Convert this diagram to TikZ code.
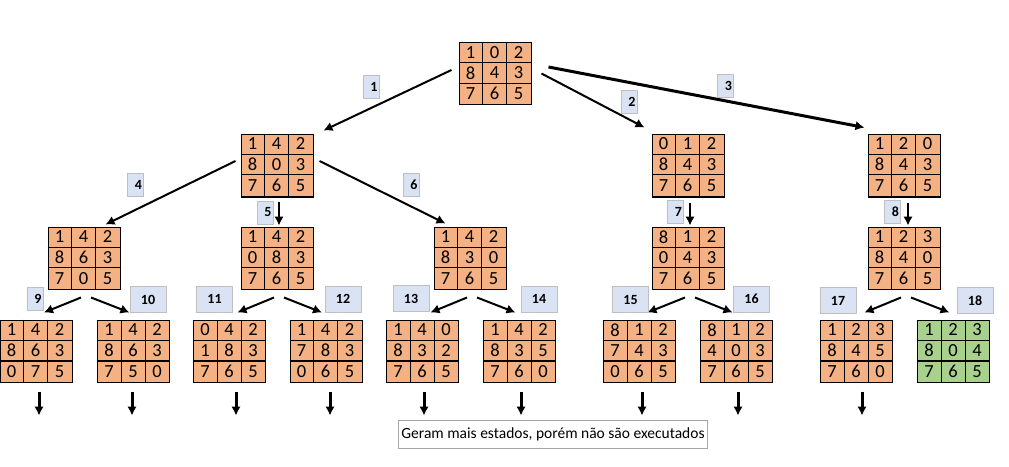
\documentclass[tikz,border=0pt]{standalone}
\usepackage{fontspec}
\setmainfont{Carlito}
\usetikzlibrary{arrows.meta,positioning,calc}
\definecolor{tile}{HTML}{F4B183}
\definecolor{goal}{HTML}{A9D18E}
\definecolor{tagfill}{HTML}{DAE3F3}
\definecolor{tagline}{HTML}{BFBFBF}
\tikzset{
	board/.style={
		rectangle,
		draw=black,
		line width=1pt,
		minimum width=72pt,
		minimum height=62pt,
		inner sep=0pt,
	},
	digit/.style={
		inner sep=0pt,
		font=\fontsize{18.5}{21}\selectfont,
	},
	tag/.style={
		rectangle,
		draw=tagline,
		fill=tagfill,
		line width=1pt,
		font=\bfseries\fontsize{14}{16}\selectfont,
	},
	onetag/.style={
		tag,
		text width=13pt,
		align=right,
		inner xsep=1.5pt,
		minimum height=23pt,
	},
	twotag/.style={
		tag,
		minimum width=36pt,
		minimum height=26pt,
	},
	move/.style={
		-{Latex[length=9pt,width=9.5pt]},
		line width=2pt,
	},
}

% board: fill, name, placement, the nine tiles
\newcommand{\puzzle}[4][tile]{%
	\node [board, fill=#1, #3] (#2) {};
	\foreach \d [count=\i from 0] in {#4} {
		\pgfmathtruncatemacro{\prow}{\i/3}
		\pgfmathtruncatemacro{\pcol}{mod(\i,3)}
		\node [digit] at ($(#2.north west)+(\pcol*24+12,\prow*20.667+10.333)$) {\d};
	}
	\draw [line width=1pt] ($(#2.north west)+(24,0)$) -- ++(0,62)
		($(#2.north west)+(48,0)$) -- ++(0,62)
		($(#2.north west)+(0,20.667)$) -- ++(72,0)
		($(#2.north west)+(0,41.333)$) -- ++(72,0);
}

\begin{document}
\begin{tikzpicture}[x=1pt, y=-1pt]
	\useasboundingbox (0,0) rectangle (1009,466);

	% start state
	\puzzle{root}{at={(495,73.5)}}{1,0,2,8,4,3,7,6,5}

	% first level
	\puzzle{s1}{at={(277,165)}}{1,4,2,8,0,3,7,6,5}
	\puzzle{s2}{at={(688,165)}}{0,1,2,8,4,3,7,6,5}
	\puzzle{s3}{at={(904,165)}}{1,2,0,8,4,3,7,6,5}

	% second level
	\puzzle{s4}{below=30pt of s1, xshift=-193pt}{1,4,2,8,6,3,7,0,5}
	\puzzle{s5}{below=30pt of s1}{1,4,2,0,8,3,7,6,5}
	\puzzle{s6}{below=30pt of s1, xshift=193pt}{1,4,2,8,3,0,7,6,5}
	\puzzle{s7}{below=30pt of s2}{8,1,2,0,4,3,7,6,5}
	\puzzle{s8}{below=30pt of s3}{1,2,3,8,4,0,7,6,5}

	% third level
	\puzzle{s9}{below=30pt of s4, xshift=-48pt}{1,4,2,8,6,3,0,7,5}
	\puzzle{s10}{below=30pt of s4, xshift=49.5pt}{1,4,2,8,6,3,7,5,0}
	\puzzle{s11}{below=30pt of s5, xshift=-47.5pt}{0,4,2,1,8,3,7,6,5}
	\puzzle{s12}{below=30pt of s5, xshift=49pt}{1,4,2,7,8,3,0,6,5}
	\puzzle{s13}{below=30pt of s6, xshift=-47.5pt}{1,4,0,8,3,2,7,6,5}
	\puzzle{s14}{below=30pt of s6, xshift=49.5pt}{1,4,2,8,3,5,7,6,0}
	\puzzle{s15}{below=30pt of s7, xshift=-48.5pt}{8,1,2,7,4,3,0,6,5}
	\puzzle{s16}{below=30pt of s7, xshift=48.5pt}{8,1,2,4,0,3,7,6,5}
	\puzzle{s17}{below=30pt of s8, xshift=-47.5pt}{1,2,3,8,4,5,7,6,0}
	\puzzle[goal]{s18}{below=30pt of s8, xshift=49.5pt}{1,2,3,8,0,4,7,6,5}

	% heavier rules
	\foreach \b in {s1,s2,s3}
		\draw [line width=2pt] (\b.south west) -- (\b.south east);
	\foreach \b in {s9,s10,s11,s12,s13,s14,s15,s16,s17,s18}
		\draw [line width=2pt] ($(\b.north west)+(0,41.333)$) -- ++(72,0);

	% moves
	\draw [move] ($(root.west)+(-7,-3.5)$) -- ($(s1.north east)+(10,-3)$);
	\draw [move] ($(root.east)+(10,0)$) -- ($(s2.north west)+(-7,-6)$);
	\draw [move, line width=3pt] ($(root.east)+(17,-6.5)$) -- ($(s3.north west)+(-3,-6)$);
	\draw [move] ($(s1.west)+(-5,-4)$) -- ($(s4.north east)+(-15,-2)$);
	\draw [move, line width=2.5pt] ($(s1.south)+(2,5)$) -- ($(s5.north)+(2,-1)$);
	\draw [move] ($(s1.east)+(6,-4)$) -- ($(s6.north west)+(12,-3)$);
	\draw [move, line width=2.5pt] ($(s2.south)+(2,6)$) -- ($(s7.north)+(2,-1)$);
	\draw [move, line width=2.5pt] ($(s3.south)+(4,6)$) -- ($(s8.north)+(4,-1)$);
	\foreach \p/\l/\r in {s4/s9/s10, s5/s11/s12, s6/s13/s14, s7/s15/s16, s8/s17/s18} {
		\draw [move] ($(\p.south)+(-3,8)$) -- ($(\l.north)+(8,-7)$);
		\draw [move] ($(\p.south)+(7,8)$) -- ($(\r.north)+(-4,-7)$);
	}
	\foreach \b/\dx in {s9/3, s10/-1.5, s11/6.5, s12/4, s13/1.5, s14/1.5, s15/2.5, s16/1.5, s17/5.5}
		\draw [move, line width=3pt] ($(\b.south)+(\dx,9)$) -- ++(0,24);

	% move numbers
	\node [onetag] (m1) at (371,86.5) {1};
	\node [onetag] (m2) at (629,101.5) {2};
	\node [onetag] (m3) at (725.5,86) {3};
	\node [onetag] (m4) at (135.5,185) {4};
	\node [onetag] (m5) at (265,212.5) {5};
	\node [onetag] (m6) at (411,185) {6};
	\node [onetag] (m7) at (675.5,211.5) {7};
	\node [onetag] (m8) at (892.5,211.5) {8};
	\node [onetag] (m9) at (35,299) {9};
	\node [twotag] (m10) at (148,299.5) {10};
	\node [twotag] (m11) at (214.5,299) {11};
	\node [twotag] (m12) at (343,299) {12};
	\node [twotag] (m13) at (411,298.5) {13};
	\node [twotag] (m14) at (539,299) {14};
	\node [twotag] (m15) at (630.5,299.5) {15};
	\node [twotag] (m16) at (751.5,299) {16};
	\node [twotag] (m17) at (838,300.5) {17};
	\node [twotag] (m18) at (975,300.5) {18};

	\node [draw=gray!70, line width=1pt, minimum width=304pt, minimum height=28pt,
		font=\fontsize{15.5}{18}\selectfont] (note) at (553,434)
		{Geram mais estados, porém não são executados};
\end{tikzpicture}
\end{document}
